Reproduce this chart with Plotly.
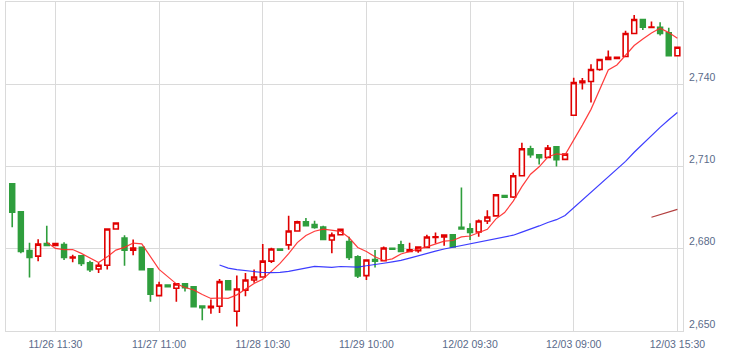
import plotly.graph_objects as go
import pandas as pd

# --- data (30-minute bars) ---
days = ["11/26", "11/27", "11/28", "11/29", "12/02", "12/03"]
sessions = ["09:00", "09:30", "10:00", "10:30", "11:00", "11:30",
            "12:30", "13:00", "13:30", "14:00", "14:30", "15:00", "15:30"]

opens = [2703.7, 2693.5, 2679.3, 2677.3, 2681.9, 2681.2, 2681.5, 2676.6, 2677.4, 2674.9,
         2672.6, 2674.0, 2687.2, 2683.9, 2679.5, 2680.5, 2672.7, 2662.9, 2666.8, 2665.6,
         2667.2, 2666.1, 2659.1, 2658.5, 2659.0, 2668.3, 2657.2, 2664.9, 2668.6, 2669.7,
         2675.5, 2679.9, 2681.4, 2686.5, 2689.8, 2688.8, 2687.9, 2683.2, 2685.1, 2682.6,
         2677.1, 2670.2, 2676.1, 2675.6, 2680.2, 2681.4, 2679.0, 2679.3, 2680.5, 2684.1,
         2684.3, 2685.1, 2687.8, 2687.3, 2686.1, 2690.1, 2692.0, 2699.4, 2698.9, 2706.6,
         2716.5, 2714.3, 2713.3, 2717.2, 2712.6, 2728.7, 2740.6, 2741.0, 2745.4, 2749.0,
         2749.4, 2750.1, 2758.5, 2763.6, 2760.7, 2760.8, 2758.8, 2750.4]
highs = [2704.0, 2693.5, 2682.2, 2683.5, 2688.4, 2682.1, 2682.4, 2677.8, 2677.4, 2675.6,
         2674.9, 2687.2, 2689.4, 2684.9, 2683.4, 2680.5, 2672.7, 2668.0, 2666.8, 2667.2,
         2667.2, 2666.1, 2659.1, 2661.5, 2669.0, 2668.3, 2670.2, 2671.2, 2672.4, 2681.7,
         2680.4, 2679.9, 2692.0, 2690.2, 2691.2, 2690.2, 2688.4, 2685.9, 2687.1, 2684.4,
         2677.6, 2675.9, 2679.5, 2680.8, 2680.2, 2682.9, 2682.2, 2680.6, 2685.1, 2685.9,
         2685.0, 2685.1, 2702.3, 2689.3, 2690.7, 2694.0, 2699.7, 2699.4, 2707.7, 2718.7,
         2717.6, 2714.3, 2717.8, 2717.2, 2714.5, 2742.4, 2742.3, 2747.3, 2749.0, 2752.3,
         2749.8, 2759.5, 2765.3, 2763.6, 2762.9, 2762.6, 2760.6, 2753.5]
lows = [2687.8, 2678.4, 2669.5, 2675.4, 2681.2, 2681.0, 2675.9, 2675.1, 2673.7, 2671.5,
        2671.2, 2672.4, 2687.2, 2673.8, 2677.6, 2672.4, 2660.7, 2662.9, 2666.2, 2660.7,
        2664.4, 2658.9, 2653.9, 2656.3, 2656.6, 2665.1, 2651.6, 2662.7, 2667.6, 2669.7,
        2674.8, 2679.5, 2679.6, 2686.5, 2688.1, 2687.3, 2683.4, 2678.4, 2685.1, 2675.9,
        2669.3, 2668.6, 2673.2, 2675.6, 2679.8, 2679.0, 2679.0, 2678.5, 2680.5, 2681.9,
        2681.1, 2680.7, 2687.2, 2683.2, 2684.4, 2689.0, 2692.0, 2698.8, 2698.5, 2706.6,
        2713.2, 2710.7, 2713.3, 2710.0, 2712.6, 2728.7, 2738.1, 2733.3, 2744.9, 2749.0,
        2749.4, 2750.1, 2758.2, 2759.8, 2760.5, 2757.8, 2750.4, 2750.4]
closes = [2693.3, 2679.0, 2676.8, 2681.7, 2681.2, 2681.9, 2676.8, 2677.0, 2674.6, 2672.4,
          2674.0, 2687.2, 2689.4, 2679.5, 2680.3, 2672.4, 2663.4, 2666.8, 2666.2, 2667.2,
          2665.8, 2658.9, 2658.5, 2659.0, 2668.0, 2665.1, 2665.3, 2668.6, 2669.7, 2675.5,
          2679.9, 2679.5, 2686.5, 2689.8, 2688.4, 2687.8, 2683.4, 2685.0, 2687.1, 2676.8,
          2670.1, 2675.9, 2675.5, 2680.3, 2679.8, 2679.0, 2679.6, 2680.6, 2684.3, 2684.4,
          2685.0, 2680.7, 2687.2, 2685.9, 2690.1, 2691.6, 2699.7, 2698.8, 2706.6, 2716.5,
          2714.3, 2713.2, 2716.7, 2712.5, 2714.5, 2740.6, 2741.2, 2745.4, 2749.0, 2749.8,
          2749.8, 2758.5, 2763.6, 2760.8, 2760.9, 2758.5, 2750.4, 2753.5]

tick_labels = ["11/26 11:30", "11/27 11:00", "11/28 10:30", "11/29 10:00",
               "12/02 09:30", "12/03 09:00", "12/03 15:30"]
y_ticks = [2650, 2680, 2710, 2740]
ma_periods = [5, 25, 75]

# --- build ---
bar_labels = [f"{d} {s}" for d in days for s in sessions]
xpos = list(range(len(bar_labels)))
tick_pos = [bar_labels.index(t) for t in tick_labels]

close_s = pd.Series(closes)
ma = {p: close_s.rolling(p).mean() for p in ma_periods}

RED = "#e00000"
GREEN = "#2f9e3d"
TXT = "#5a6b8a"
GRID = "#dadada"

fig = go.Figure()
fig.add_trace(go.Candlestick(
    x=xpos, open=opens, high=highs, low=lows, close=closes,
    increasing=dict(line=dict(color=RED, width=1.6), fillcolor="white"),
    decreasing=dict(line=dict(color=GREEN, width=1.6), fillcolor=GREEN),
    whiskerwidth=0, showlegend=False, hoverinfo="skip"))

ma_colors = {5: "rgba(255,40,40,0.9)", 25: "rgba(40,40,255,0.9)", 75: "rgba(170,40,40,0.9)"}
for p in ma_periods:
    fig.add_trace(go.Scatter(x=xpos, y=ma[p], mode="lines",
                             line=dict(color=ma_colors[p], width=1.2),
                             showlegend=False, hoverinfo="skip"))

fig.update_layout(
    width=730, height=358,
    margin=dict(l=6, r=47, t=2, b=27),
    paper_bgcolor="white", plot_bgcolor="white",
    font=dict(family="Liberation Sans, Arial, sans-serif", size=10.5, color=TXT),
    boxgap=0.2,
    xaxis=dict(range=[-0.72, 77.65], tickmode="array", tickvals=tick_pos, ticktext=tick_labels,
               showgrid=True, gridcolor=GRID, gridwidth=1,
               showline=True, linecolor=GRID, linewidth=1, mirror=True,
               ticks="", ticklabelstandoff=3, rangeslider=dict(visible=False),
               zeroline=False),
    yaxis=dict(range=[2650, 2770], side="right", tickmode="array", tickvals=y_ticks,
               tickformat=",d", showgrid=True, gridcolor=GRID, gridwidth=1,
               showline=True, linecolor=GRID, linewidth=1, mirror=True,
               ticks="", ticklabelstandoff=3, ticklabelshift=-7, zeroline=False),
)

fig.write_html("out.html", config={"displayModeBar": False},
               post_script="document.body.style.margin='0';")
